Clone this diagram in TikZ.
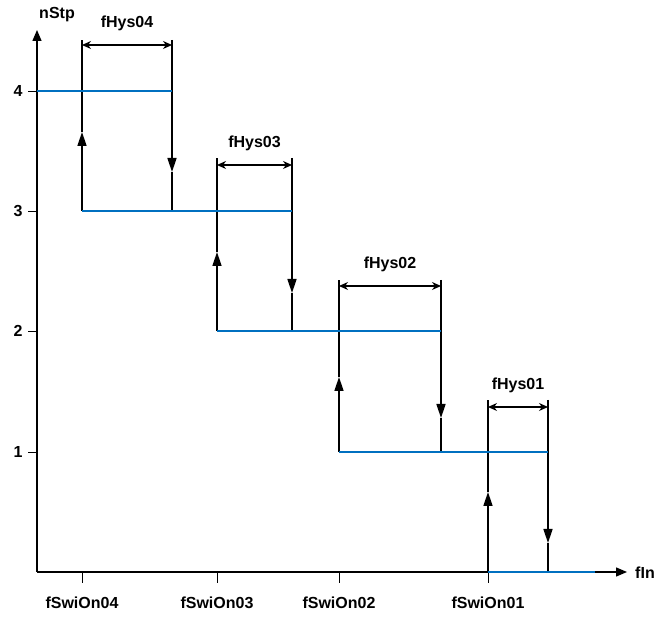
\documentclass[tikz,border=0pt]{standalone}
\usepackage{fontspec}
\setmainfont{Liberation Sans}
\usetikzlibrary{arrows.meta,positioning}
\definecolor{stpblue}{HTML}{0070C0}

\begin{document}
\begin{tikzpicture}[
    x=1pt, y=-1pt,
    lbl/.style={font=\fontsize{16}{19}\selectfont\bfseries, inner sep=0pt},
    axis/.style={line width=1.5pt, -{Triangle[length=11pt, width=9pt]}},
    level/.style={line width=2.6pt, stpblue},
    jump/.style={line width=1.6pt},
    jumparrow/.style={jump, -{Triangle[length=14pt, width=9pt]}},
    hys/.style={line width=1.3pt, {Stealth[length=9pt, width=8pt]}-{Stealth[length=9pt, width=8pt]}},
    tickline/.style={line width=0.8pt}
  ]
  \useasboundingbox (0,0) rectangle (665,620);

  \coordinate (o) at (37,572);
  \coordinate (ytop) at (37,30);
  \coordinate (xend) at (627,572);
  \node[lbl] (nstp) at (57,15) {nStp};
  \node[lbl] (fin) at (645,573) {fIn};

  \foreach \k/\yk in {4/91, 3/211, 2/331, 1/452}{
    \coordinate (yt\k) at (28,\yk);
    \coordinate (ya\k) at (37,\yk);
    \draw[tickline] (yt\k) -- (ya\k);
    \node[lbl] (ylab\k) at (18,\yk) {\k};
  }

  \foreach \n/\xon/\xoff/\ylo/\yhi/\ytop/\ydim/\yup/\ydn in {
      4/82/172/211/91/40/45/132/172,
      3/217/292/331/211/158/165/252/293,
      2/339/441/452/331/280/286/377/418,
      1/488/548/572/452/400/407/492/543}{
    \coordinate (on\n) at (\xon,\ylo);
    \coordinate (onup\n) at (\xon,\yup);
    \coordinate (ontop\n) at (\xon,\ytop);
    \coordinate (off\n) at (\xoff,\yhi);
    \coordinate (offdn\n) at (\xoff,\ydn);
    \coordinate (offtop\n) at (\xoff,\ytop);
    \coordinate (offlo\n) at (\xoff,\ylo);
    \coordinate (diml\n) at (\xon,\ydim);
    \coordinate (dimr\n) at (\xoff,\ydim);
    \coordinate (tick\n) at (\xon,572);
    \coordinate (tickb\n) at (\xon,583);

    \draw[jumparrow] (on\n) -- (onup\n);
    \draw[jump] (onup\n) -- (ontop\n);
    \draw[jumparrow] (offtop\n) -- (offdn\n);
    \draw[jump] (offdn\n) -- (offlo\n);
    \draw[hys] (diml\n) -- (dimr\n) node[lbl, midway, yshift=22pt] (hys\n) {fHys0\n};
    \draw[tickline] (tick\n) -- (tickb\n);
    \node[lbl] (swi\n) at (\xon,603) {fSwiOn0\n};
  }

  \draw[axis] (o) -- (ytop);
  \draw[axis] (o) -- (xend);

  \coordinate (l4a) at (37,91);
  \coordinate (l0b) at (595,572);
  \draw[level] (l4a) -- (off4);
  \draw[level] (on4) -- (off3);
  \draw[level] (on3) -- (off2);
  \draw[level] (on2) -- (off1);
  \draw[level] (on1) -- (l0b);
\end{tikzpicture}
\end{document}
